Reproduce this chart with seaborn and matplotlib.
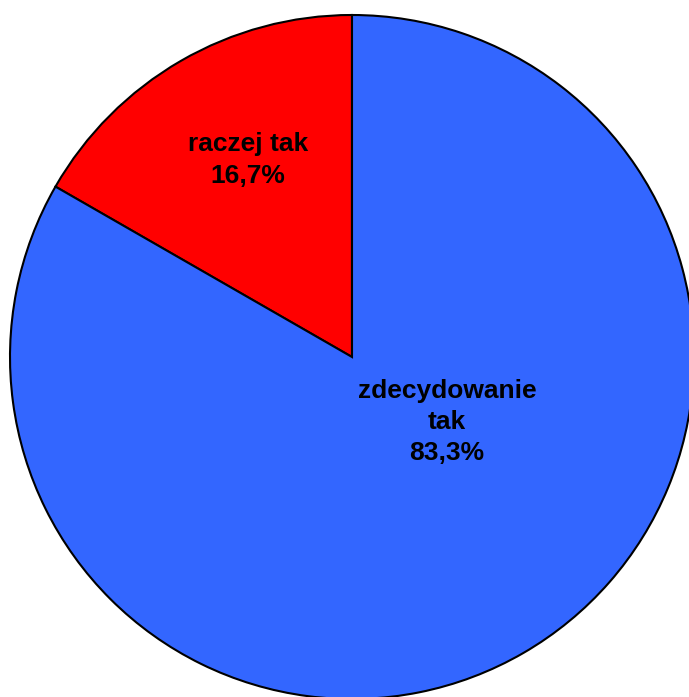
import matplotlib
matplotlib.use('Agg')
import matplotlib.pyplot as plt
import seaborn as sns

# Dane
kategorie = ['raczej tak', 'zdecydowanie\ntak']
udzialy = [16.7, 83.3]
kolory = ['#FF0000', '#3366FF']
# pozycje etykiet (w promieniach od środka)
etykiety_x = [-0.305, 0.278]
etykiety_y = [0.576, -0.190]

sns.set_style('white')
plt.rcParams['font.family'] = ['Liberation Sans', 'DejaVu Sans']

fig = plt.figure(figsize=(6.89, 6.97), dpi=100)
# oś ustawiona tak, by środek koła był w (352, 357) px, promień 342 px
ax = fig.add_axes([10 / 689, -2 / 697, 684 / 689, 684 / 697])

wedges, _ = ax.pie(udzialy, colors=kolory, startangle=90, counterclock=True,
                   radius=1.0, wedgeprops=dict(edgecolor='black', linewidth=1.5))

for kat, val, x, y in zip(kategorie, udzialy, etykiety_x, etykiety_y):
    txt = f'{kat}\n{val:.1f}%'.replace('.', ',')
    ax.text(x, y, txt, ha='center', va='center', fontsize=19,
            fontweight='bold', linespacing=1.38, color='black')

ax.set_xlim(-1, 1)
ax.set_ylim(-1, 1)
ax.set_aspect('equal')
ax.axis('off')

fig.savefig('out.png', dpi=100)
